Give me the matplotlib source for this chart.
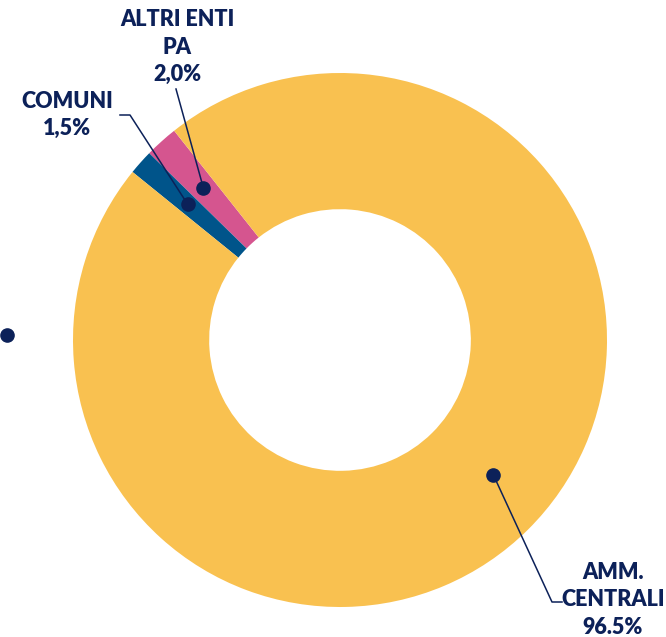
import numpy as np
import matplotlib.pyplot as plt

# Data
labels = ['ALTRI ENTI\nPA', 'COMUNI', 'AMM.\nCENTRALI']
values = [2.0, 1.5, 96.5]
value_text = ['2,0%', '1,5%', '96.5%']
colors = ['#D5558F', '#00548A', '#F9C150']

NAVY = '#0C2159'
W, H = 666, 637

fig = plt.figure(figsize=(W / 100, H / 100), dpi=100)
ax = fig.add_axes([0, 0, 1, 1])
ax.set_xlim(0, W)
ax.set_ylim(0, H)
ax.axis('off')

cx, cy = 340, H - 340
r_out = 267
wedges, _ = ax.pie(values, colors=colors, startangle=128.4, counterclock=True,
                   radius=r_out, center=(cx, cy),
                   wedgeprops=dict(width=r_out * 0.51, linewidth=0))
ax.set_xlim(0, W)
ax.set_ylim(0, H)
ax.set_aspect('equal')

# label layout (pixel coords, y measured from top)
dot_r = 204
angle_shift = [0, 0, 4]
elbows = [
    [(176, 89)],
    [(130, 115), (120, 115)],
    [(552, 602), (562, 602)],
]
text_pos = [(177, 47), (67, 115), (613, 600)]

for w, lab, vt, sh, pts, tp in zip(wedges, labels, value_text, angle_shift, elbows, text_pos):
    mid = np.deg2rad((w.theta1 + w.theta2) / 2 + sh)
    dx = cx + dot_r * np.cos(mid)
    dy = cy + dot_r * np.sin(mid)
    xs = [dx] + [p[0] for p in pts]
    ys = [dy] + [H - p[1] for p in pts]
    ax.plot(xs, ys, color=NAVY, lw=1.1, zorder=3)
    ax.plot(dx, dy, 'o', color=NAVY, ms=9.5, zorder=4)
    ax.text(tp[0], H - tp[1], lab + '\n' + vt, ha='center', va='center',
            fontsize=15.5, fontweight='heavy', color=NAVY, linespacing=1.38,
            family=['Lato', 'DejaVu Sans'])

# stray marker on the left
ax.plot(7, H - 335, 'o', color=NAVY, ms=9.5, clip_on=False)

plt.savefig('out.png', dpi=100)
